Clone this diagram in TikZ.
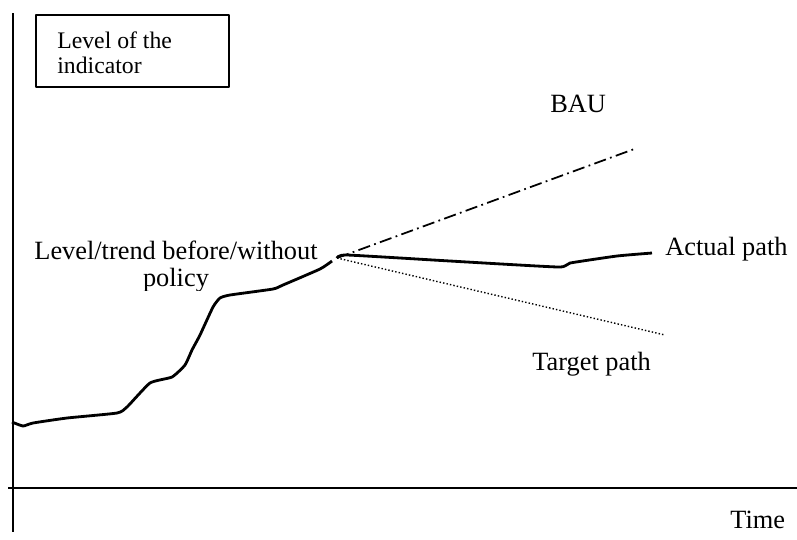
\documentclass[tikz,border=0pt]{standalone}
\usepackage{fontspec}
\setmainfont{Liberation Serif}

\begin{document}
\begin{tikzpicture}[x=0.02cm,y=-0.02cm,line join=round,
  lbl/.style={inner sep=0pt,font=\fontsize{15}{15.3}\selectfont}]
\useasboundingbox (0,0) rectangle (797,539);
% axes
\draw[line width=1.1pt] (13,13) -- (13,532);
\draw[line width=1.1pt] (8,488) -- (797,488);
% label of the vertical axis
\draw[line width=0.85pt] (36,15) rectangle (229,87);
\node[anchor=north west, align=left, inner sep=0pt, font=\fontsize{13.5}{14.7}\selectfont] (indicator) at (57,31) {Level of the\\indicator};
% level before the policy
\draw[line width=1.6pt] plot[smooth, tension=0.3] coordinates {(12,422) (23,426) (33,423) (67,418) (117,413) (127,407) (150,383) (172,377) (185,365) (192,350) (200,335) (213,307) (220,298) (230,295) (273,289) (283,285) (320,269) (332,261)};
\coordinate (start) at (337,258);
\begin{scope}
\clip (0,0) rectangle (797,290);
\node[lbl, anchor=north, align=center] (before) at (176,241) {Level/trend before/without\\policy};
\end{scope}
% the three paths
\draw[line width=1pt, dash pattern=on 7pt off 2.5pt on 1pt off 2.5pt] (start) -- (637,148);
\draw[line width=1.6pt] plot[smooth, tension=0.3] coordinates {(start) (347,255) (450,261) (558,267) (570,263) (617,256) (652,253)};
\draw[line width=0.8pt, dash pattern=on 0.8pt off 1.2pt] (start) -- (665,335);
\node[lbl, anchor=base west] (bau) at (550,112) {BAU};
\node[lbl, anchor=base west] (actual) at (665,255) {Actual path};
\node[lbl, anchor=base west] (target) at (532,370) {Target path};
\node[lbl, anchor=base west] (time) at (730,528) {Time};
\end{tikzpicture}
\end{document}
